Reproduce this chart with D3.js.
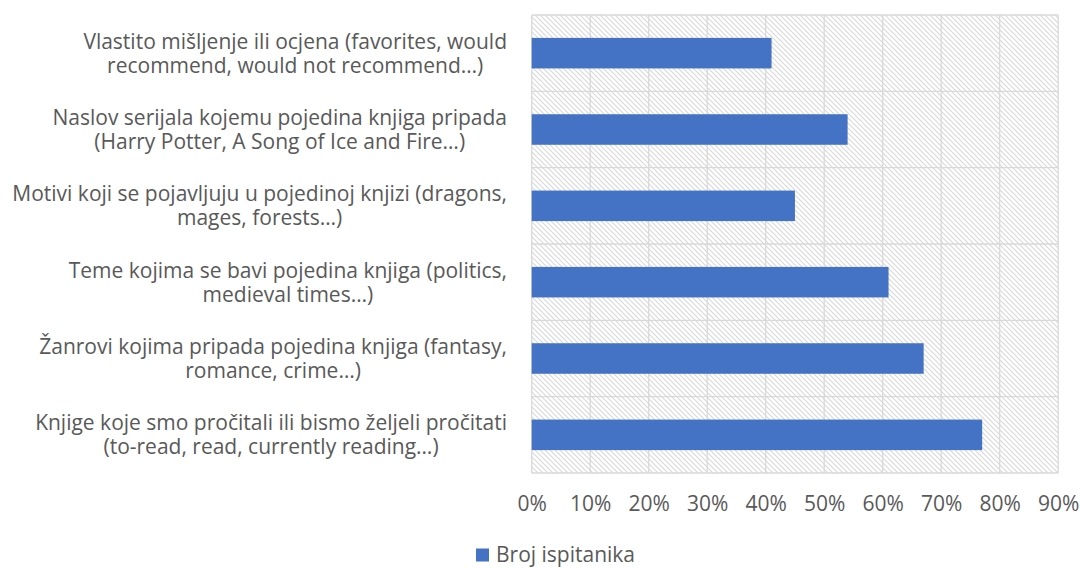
<!DOCTYPE html>
<html>
<head>
<meta charset="utf-8">
<script src="https://cdn.jsdelivr.net/npm/d3@7"></script>
<style>
  body { margin: 0; background: #fff; }
  text { font-family: "Open Sans", sans-serif; fill: #595959; }
</style>
</head>
<body>
<svg id="canvas"></svg>
<script>
// categories, top to bottom, each label split into its two lines
const categories = [
  "Vlastito mišljenje ili ocjena (favorites, would|recommend, would not recommend…)",
  "Naslov serijala kojemu pojedina knjiga pripada|(Harry Potter, A Song of Ice and Fire…)",
  "Motivi koji se pojavljuju u pojedinoj knjizi (dragons,|mages, forests…)",
  "Teme kojima se bavi pojedina knjiga (politics,|medieval times…)",
  "Žanrovi kojima pripada pojedina knjiga (fantasy,|romance, crime…)",
  "Knjige koje smo pročitali ili bismo željeli pročitati|(to-read, read, currently reading…)"
];
const values = [0.41, 0.54, 0.45, 0.61, 0.67, 0.77];
const ticks = [0, 0.1, 0.2, 0.3, 0.4, 0.5, 0.6, 0.7, 0.8, 0.9];
const seriesName = "Broj ispitanika";

const width = 1080,
  height = 568,
  plotLeft = 531.7,
  plotRight = 1058.2,
  plotTop = 15,
  plotBottom = 473,
  fontSize = 21,
  lineGap = 24,
  barColor = "#4472c4",
  gridColor = "#d9d9d9";

const canvas = d3.select("#canvas").attr("width", width).attr("height", height);

const xScale = d3.scaleLinear().domain([0, 0.9]).range([plotLeft, plotRight]);
const yScale = d3.scaleBand().domain(categories).range([plotTop, plotBottom]).paddingInner(0.6).paddingOuter(0.3);
const rowScale = d3.scaleBand().domain(categories).range([plotTop, plotBottom]);

// hatched background
const defs = canvas.append("defs");
defs
  .append("pattern")
  .attr("id", "hatch")
  .attr("patternUnits", "userSpaceOnUse")
  .attr("width", 5)
  .attr("height", 5)
  .append("path")
  .attr("d", "M0,0 L5,5 M-1,4 L1,6 M4,-1 L6,1")
  .attr("stroke", gridColor)
  .attr("stroke-width", 1.2);

canvas
  .append("rect")
  .attr("x", plotLeft)
  .attr("y", plotTop)
  .attr("width", plotRight - plotLeft)
  .attr("height", plotBottom - plotTop)
  .attr("fill", "url(#hatch)");

// vertical gridlines
canvas
  .append("g")
  .selectAll("line")
  .data(ticks)
  .join("line")
  .attr("x1", (d) => xScale(d))
  .attr("x2", (d) => xScale(d))
  .attr("y1", plotTop)
  .attr("y2", plotBottom)
  .attr("stroke", gridColor)
  .attr("stroke-width", 1.3);

// horizontal gridlines between categories
canvas
  .append("g")
  .selectAll("line")
  .data(categories)
  .join("line")
  .attr("x1", plotLeft)
  .attr("x2", plotRight)
  .attr("y1", (d) => rowScale(d))
  .attr("y2", (d) => rowScale(d))
  .attr("stroke", gridColor)
  .attr("stroke-width", 1.3);

canvas
  .append("line")
  .attr("x1", plotLeft)
  .attr("x2", plotRight)
  .attr("y1", plotBottom)
  .attr("y2", plotBottom)
  .attr("stroke", gridColor)
  .attr("stroke-width", 1.3);

// bars
canvas
  .append("g")
  .selectAll("rect")
  .data(values)
  .join("rect")
  .attr("x", xScale(0))
  .attr("y", (d, i) => yScale(categories[i]))
  .attr("width", (d) => xScale(d) - xScale(0))
  .attr("height", yScale.bandwidth())
  .attr("fill", barColor);

// x axis labels
const xAxis = d3.axisBottom(xScale).tickValues(ticks).tickFormat(d3.format(".0%")).tickSize(0).tickPadding(23);
const axisG = canvas.append("g").attr("transform", `translate(0, ${plotBottom})`).call(xAxis);
axisG.select(".domain").remove();
axisG.selectAll("text").attr("font-size", fontSize).attr("font-family", null).attr("fill", "#595959");

// category labels, lines centred on each other, block right-aligned
const labels = canvas
  .append("g")
  .selectAll("text")
  .data(categories)
  .join("text")
  .attr("font-size", fontSize)
  .attr("text-anchor", "middle");

labels.each(function (d) {
  const t = d3.select(this);
  const lines = d.split("|");
  const cy = rowScale(d) + rowScale.bandwidth() / 2;
  lines.forEach((line, i) => {
    t.append("tspan")
      .attr("x", 0)
      .attr("y", cy + (i - (lines.length - 1) / 2) * lineGap)
      .attr("dy", "0.35em")
      .text(line);
  });
  const w = this.getBBox().width;
  t.selectAll("tspan").attr("x", 507 - w / 2);
});

// legend
const legend = canvas.append("g").attr("transform", "translate(476, 548.5)");
legend.append("rect").attr("width", 13).attr("height", 13).attr("fill", barColor);
legend.append("text").attr("x", 20).attr("y", 6.5).attr("dy", "0.35em").attr("font-size", fontSize).text(seriesName);
</script>
</body>
</html>
